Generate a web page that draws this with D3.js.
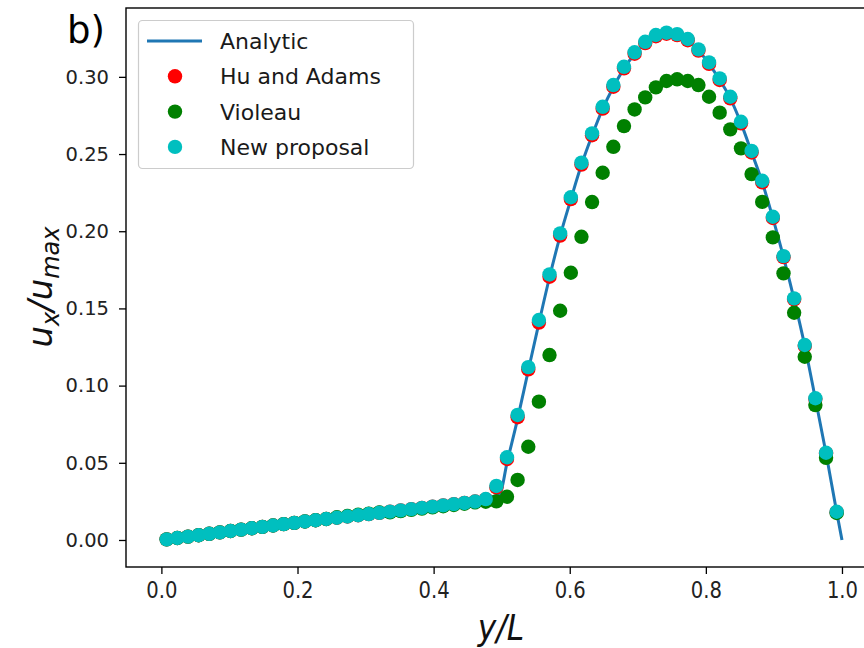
<!DOCTYPE html>
<html>
<head>
<meta charset="utf-8">
<script src="https://cdn.jsdelivr.net/npm/d3@7"></script>
<style>
  body { margin: 0; background: #fff; }
  svg { display: block; font-family: "DejaVu Sans", sans-serif; }
</style>
</head>
<body>
<div id="chart"></div>
<script>
// particle positions y/L (64 particles)
const particleX = [
  0.0078, 0.0234, 0.0391, 0.0547, 0.0703, 0.0859, 0.1016, 0.1172, 0.1328, 0.1484,
  0.1641, 0.1797, 0.1953, 0.2109, 0.2266, 0.2422, 0.2578, 0.2734, 0.2891, 0.3047,
  0.3203, 0.3359, 0.3516, 0.3672, 0.3828, 0.3984, 0.4141, 0.4297, 0.4453, 0.4609,
  0.4766, 0.4922, 0.5078, 0.5234, 0.5391, 0.5547, 0.5703, 0.5859, 0.6016, 0.6172,
  0.6328, 0.6484, 0.6641, 0.6797, 0.6953, 0.7109, 0.7266, 0.7422, 0.7578, 0.7734,
  0.7891, 0.8047, 0.8203, 0.8359, 0.8516, 0.8672, 0.8828, 0.8984, 0.9141, 0.9297,
  0.9453, 0.9609, 0.9766, 0.9922
];

const huAdams = [
  0.0004, 0.0013, 0.0022, 0.0031, 0.0040, 0.0049, 0.0058, 0.0067, 0.0076, 0.0085,
  0.0094, 0.0103, 0.0111, 0.0120, 0.0128, 0.0136, 0.0144, 0.0152, 0.0160, 0.0168,
  0.0176, 0.0184, 0.0192, 0.0200, 0.0208, 0.0216, 0.0224, 0.0232, 0.0240, 0.0249,
  0.0263, 0.0340, 0.0525, 0.0795, 0.1105, 0.1408, 0.1705, 0.1972, 0.2208, 0.2432,
  0.2622, 0.2794, 0.2936, 0.3055, 0.3150, 0.3219, 0.3263, 0.3279, 0.3270, 0.3237,
  0.3170, 0.3084, 0.2980, 0.2861, 0.2699, 0.2510, 0.2317, 0.2086, 0.1832, 0.1558,
  0.1257, 0.0913, 0.0561, 0.0180
];

const violeau = [
  0.0004, 0.0013, 0.0022, 0.0031, 0.0040, 0.0049, 0.0058, 0.0067, 0.0076, 0.0085,
  0.0094, 0.0103, 0.0111, 0.0120, 0.0128, 0.0136, 0.0147, 0.0155, 0.0163, 0.0171,
  0.0179, 0.0179, 0.0187, 0.0195, 0.0203, 0.0211, 0.0219, 0.0227, 0.0235, 0.0244,
  0.0248, 0.0250, 0.0280, 0.0389, 0.0604, 0.0896, 0.1198, 0.1485, 0.1731, 0.1964,
  0.2189, 0.2379, 0.2547, 0.2681, 0.2789, 0.2867, 0.2932, 0.2973, 0.2984, 0.2973,
  0.2947, 0.2871, 0.2768, 0.2660, 0.2537, 0.2370, 0.2190, 0.1960, 0.1727, 0.1472,
  0.1187, 0.0874, 0.0532, 0.0175
];

const newProposal = [
  0.0004, 0.0013, 0.0022, 0.0031, 0.0040, 0.0049, 0.0058, 0.0067, 0.0076, 0.0085,
  0.0094, 0.0103, 0.0111, 0.0120, 0.0128, 0.0136, 0.0144, 0.0152, 0.0160, 0.0168,
  0.0176, 0.0184, 0.0192, 0.0200, 0.0208, 0.0216, 0.0224, 0.0232, 0.0240, 0.0249,
  0.0265, 0.0350, 0.0536, 0.0810, 0.1120, 0.1425, 0.1720, 0.1986, 0.2220, 0.2444,
  0.2634, 0.2806, 0.2947, 0.3065, 0.3159, 0.3227, 0.3271, 0.3286, 0.3277, 0.3245,
  0.3178, 0.3094, 0.2990, 0.2871, 0.2709, 0.2520, 0.2327, 0.2094, 0.1839, 0.1565,
  0.1263, 0.0918, 0.0565, 0.0183
];

// analytic curve
const analyticX = [
  0.0, 0.1, 0.2, 0.3, 0.4, 0.45, 0.497, 0.5078, 0.5234, 0.5391,
  0.5547, 0.5703, 0.5859, 0.6016, 0.6172, 0.6328, 0.6484, 0.6641, 0.6797, 0.6953,
  0.7109, 0.7266, 0.7422, 0.7578, 0.7734, 0.7891, 0.8047, 0.8203, 0.8359, 0.8516,
  0.8672, 0.8828, 0.8984, 0.9141, 0.9297, 0.9453, 0.9609, 0.9766, 0.9922, 1.0
];
const analyticY = [
  0.0, 0.0056, 0.0112, 0.0168, 0.0224, 0.0252, 0.0295, 0.0500, 0.0785, 0.1098,
  0.1405, 0.1702, 0.1970, 0.2206, 0.2430, 0.2620, 0.2792, 0.2934, 0.3053, 0.3148,
  0.3217, 0.3262, 0.3278, 0.3269, 0.3236, 0.3170, 0.3084, 0.2980, 0.2861, 0.2700,
  0.2511, 0.2318, 0.2087, 0.1833, 0.1559, 0.1258, 0.0915, 0.0562, 0.0181, 0.0
];

const xTicks = [0, 0.2, 0.4, 0.6, 0.8, 1.0];
const yTicks = [0, 0.05, 0.10, 0.15, 0.20, 0.25, 0.30];
const seriesNames = ["Analytic", "Hu and Adams", "Violeau", "New proposal"];
const seriesColors = ["#1f77b4", "#ff0000", "#008000", "#00bfbf"];

const W = 864, H = 648;
const plot = { left: 126, right: 876, top: 8, bottom: 567 };
const markerR = 7.2;

const svg = d3.select("#chart").append("svg")
  .attr("width", W)
  .attr("height", H);

svg.append("rect").attr("width", W).attr("height", H).attr("fill", "#fff");

const x = d3.scaleLinear().domain([-0.052, 1.05]).range([plot.left, plot.right]);
const y = d3.scaleLinear().domain([-0.0175, 0.3446]).range([plot.bottom, plot.top]);

// analytic line
const lineData = analyticX.map((v, i) => [v, analyticY[i]]);
const line = d3.line()
  .x(d => x(d[0]))
  .y(d => y(d[1]))
  .curve(d3.curveMonotoneX);

svg.append("path")
  .datum(lineData)
  .attr("d", line)
  .attr("fill", "none")
  .attr("stroke", seriesColors[0])
  .attr("stroke-width", 3);

// scatter series, drawn in legend order
const pointSeries = [huAdams, violeau, newProposal];
pointSeries.forEach((vals, k) => {
  svg.append("g")
    .selectAll("circle")
    .data(vals.map((v, i) => [particleX[i], v]))
    .join("circle")
    .attr("cx", d => x(d[0]))
    .attr("cy", d => y(d[1]))
    .attr("r", markerR)
    .attr("fill", seriesColors[k + 1]);
});

// axes
const yAxis = svg.append("g")
  .attr("transform", `translate(${plot.left},0)`)
  .call(d3.axisLeft(y).tickValues(yTicks).tickFormat(d3.format(".2f")).tickSize(7).tickPadding(10).tickSizeOuter(0));
yAxis.select(".domain").remove();
yAxis.selectAll("line").attr("stroke", "#000").attr("stroke-width", 1.3);
yAxis.selectAll("text").attr("font-size", 19.5).attr("fill", "#222")
  .attr("font-family", "DejaVu Sans");

const xAxis = svg.append("g")
  .attr("transform", `translate(0,${plot.bottom})`)
  .call(d3.axisBottom(x).tickValues(xTicks).tickFormat(d3.format(".1f")).tickSize(7).tickPadding(8).tickSizeOuter(0));
xAxis.select(".domain").remove();
xAxis.selectAll("line").attr("stroke", "#000").attr("stroke-width", 1.3);
xAxis.selectAll("text").attr("font-size", 22.5).attr("fill", "#222")
  .attr("font-family", "DejaVu Sans")
  .attr("transform", "scale(0.87,1)");

// frame
svg.append("rect")
  .attr("x", plot.left).attr("y", plot.top)
  .attr("width", plot.right - plot.left).attr("height", plot.bottom - plot.top)
  .attr("fill", "none").attr("stroke", "#000").attr("stroke-width", 1.4);

// axis labels
const xl = svg.append("text")
  .attr("transform", "translate(501,640) scale(0.87,1)")
  .attr("text-anchor", "middle")
  .attr("font-size", 36)
  .attr("font-style", "italic")
  .attr("fill", "#111");
xl.text("y/L");

const yl = svg.append("text")
  .attr("transform", "translate(52,287) rotate(-90)")
  .attr("text-anchor", "middle")
  .attr("font-size", 34)
  .attr("font-style", "italic")
  .attr("fill", "#111");
yl.append("tspan").text("u");
yl.append("tspan").attr("font-size", 24).attr("dy", 7).text("x");
yl.append("tspan").attr("dy", -7).text("/u");
yl.append("tspan").attr("font-size", 24).attr("dy", 7).text("max");

// panel tag
svg.append("text")
  .attr("x", 67).attr("y", 43)
  .attr("font-size", 37)
  .attr("fill", "#000")
  .text("b)");

// legend
const lg = svg.append("g");
lg.append("rect")
  .attr("x", 138.5).attr("y", 20.5).attr("width", 275).attr("height", 148)
  .attr("rx", 4)
  .attr("fill", "#fff").attr("fill-opacity", 0.8)
  .attr("stroke", "#cccccc").attr("stroke-width", 1.2);

seriesNames.forEach((name, i) => {
  const cy = 41 + i * 35.3;
  if (i === 0) {
    lg.append("line")
      .attr("x1", 147).attr("x2", 202)
      .attr("y1", cy).attr("y2", cy)
      .attr("stroke", seriesColors[0]).attr("stroke-width", 3);
  } else {
    lg.append("circle")
      .attr("cx", 175).attr("cy", cy).attr("r", markerR)
      .attr("fill", seriesColors[i]);
  }
  lg.append("text")
    .attr("x", 220).attr("y", cy + 8)
    .attr("font-size", 22)
    .attr("fill", "#1a1a1a")
    .text(name);
});
</script>
</body>
</html>
